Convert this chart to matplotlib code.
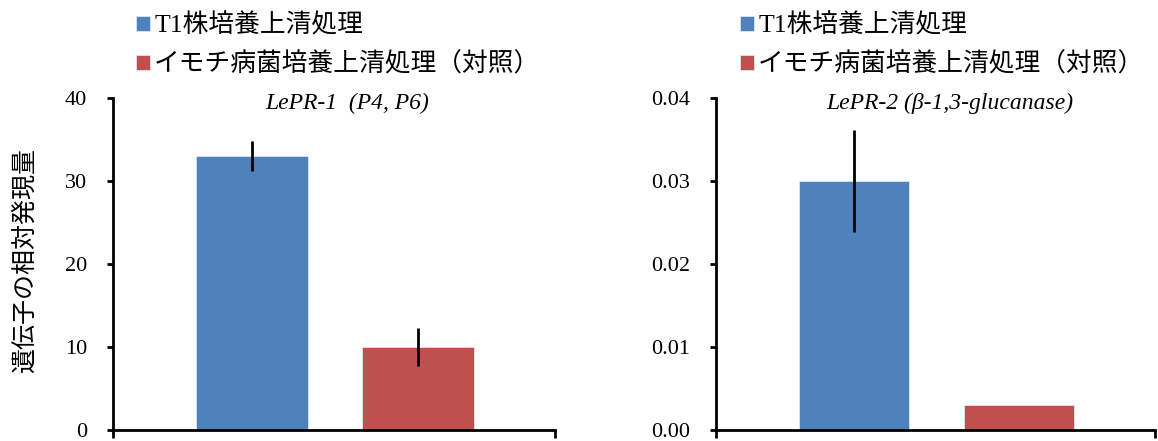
import matplotlib
matplotlib.use("Agg")
from matplotlib import pyplot as plt

# 相対発現量（平均値と誤差）
series = ["T1株培養上清処理", "イモチ病菌培養上清処理（対照）"]
pr1_mean = [33.0, 10.0]
pr1_err = [1.8, 2.3]
pr2_mean = [0.030, 0.003]
pr2_err = [0.0062, 0.0]
pr1_ticks = [0, 10, 20, 30, 40]
pr2_ticks = [0.00, 0.01, 0.02, 0.03, 0.04]
colors = ["#4F81BD", "#C0504D"]

jp = ["Liberation Serif", "Noto Sans CJK JP", "DejaVu Sans"]
plt.rcParams["font.family"] = jp

fig = plt.figure(figsize=(11.58, 4.41), dpi=100)
ax1 = fig.add_axes([0.0976, 0.0249, 0.3817, 0.7529])
ax2 = fig.add_axes([0.6183, 0.0249, 0.3791, 0.7529])

centers = [0.314, 0.690]
width = 0.252

def draw(ax, means, errs, ticks, fmt, title, tx):
    bars = []
    for i in range(len(means)):
        b = ax.bar(centers[i], means[i], width=width, color=colors[i],
                   edgecolor="#dce6f2", linewidth=0.6, label=series[i])
        bars.append(b)
        if errs[i] > 0:
            ax.errorbar(centers[i], means[i], yerr=errs[i], fmt="none",
                        ecolor="black", elinewidth=2, capsize=0)
    ax.set_xlim(0, 1)
    ax.set_ylim(ticks[0], ticks[-1])
    ax.set_yticks(ticks)
    ax.set_yticklabels([fmt.format(t) for t in ticks], fontsize=16,
                       family="Liberation Serif")
    ax.set_xticks([0, 1])
    ax.set_xticklabels([])
    ax.tick_params(axis="x", direction="out", length=6, width=2)
    ax.tick_params(axis="y", direction="out", length=4.5, width=2, pad=14)
    for s in ["top", "right"]:
        ax.spines[s].set_visible(False)
    for s in ["left", "bottom"]:
        ax.spines[s].set_linewidth(2)
    ax.text(tx, 0.985, title, transform=ax.transAxes, ha="center", va="center",
            fontsize=17, style="italic", family="Liberation Serif")
    return bars

b1 = draw(ax1, pr1_mean, pr1_err, pr1_ticks, "{:.0f}", "LePR-1  (P4, P6)", 0.529)
b2 = draw(ax2, pr2_mean, pr2_err, pr2_ticks, "{:.2f}", "LePR-2 (β-1,3-glucanase)", 0.533)

for bars, x0 in [(b1, 0.1174), (b2, 0.639)]:
    fig.legend(handles=bars, labels=series, loc="upper left",
               bbox_to_anchor=(x0, 0.97), frameon=False, borderpad=0,
               borderaxespad=0, handlelength=0.55, handleheight=0.55,
               handletextpad=0.16, labelspacing=0.55,
               prop={"family": jp, "size": 18.5})

fig.text(0.021, 0.41, "遺伝子の相対発現量", rotation=90, ha="center", va="center",
         fontsize=18, family=["Noto Sans CJK JP", "DejaVu Sans"])

fig.savefig("out.png", dpi=100)
